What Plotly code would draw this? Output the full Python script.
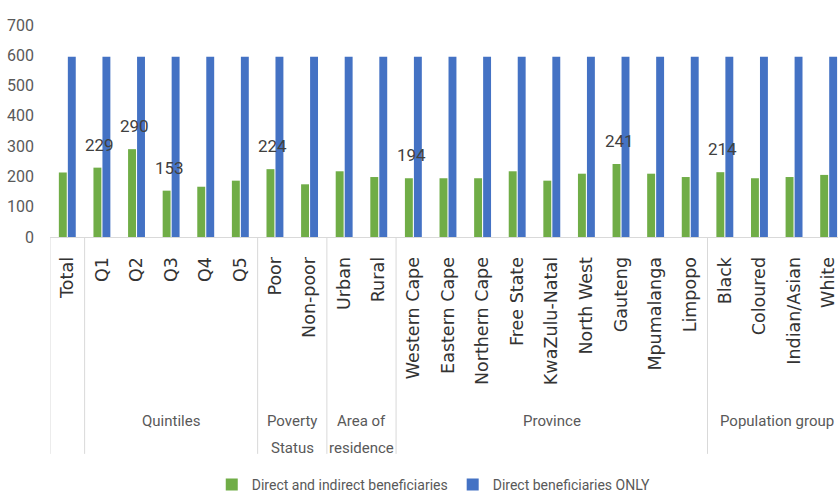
import plotly.graph_objects as go

categories = ["Total", "Q1", "Q2", "Q3", "Q4", "Q5", "Poor", "Non-poor", "Urban", "Rural",
              "Western Cape", "Eastern Cape", "Northern Cape", "Free State", "KwaZulu-Natal",
              "North West", "Gauteng", "Mpumalanga", "Limpopo",
              "Black", "Coloured", "Indian/Asian", "White"]
group_names = ["", "Quintiles", "Poverty\nStatus", "Area of\nresidence", "Province", "Population group"]
group_sizes = [1, 5, 2, 2, 9, 4]

direct_indirect = [213, 229, 290, 153, 166, 186, 224, 174, 217, 198,
                   194, 194, 194, 217, 186, 209, 241, 209, 198,
                   214, 194, 198, 205]
direct_only = [595, 595, 595, 595, 595, 595, 595, 595, 595, 595,
               595, 595, 595, 595, 595, 595, 595, 595, 595,
               595, 595, 595, 595]
shown_labels = ["", "229", "290", "153", "", "", "224", "", "", "",
                "194", "", "", "", "", "", "241", "", "",
                "214", "", "", ""]

y_ticks = [0, 100, 200, 300, 400, 500, 600, 700]

GREEN = "#70AD47"
BLUE = "#4472C4"
NARROW = "Roboto, sans-serif"

x = list(range(len(categories)))

fig = go.Figure()
fig.add_trace(go.Bar(x=x, y=direct_indirect, name="Direct and indirect beneficiaries",
                     marker=dict(color=GREEN, line=dict(width=0))))
fig.add_trace(go.Bar(x=x, y=direct_only, name="Direct beneficiaries ONLY",
                     marker=dict(color=BLUE, line=dict(width=0))))

annotations = []
for xi, v, lab in zip(x, direct_indirect, shown_labels):
    if lab:
        annotations.append(dict(x=xi, y=v, xref="x", yref="y", text=lab, showarrow=False,
                                xshift=-2, yshift=23, yanchor="middle",
                                font=dict(family=NARROW, size=17, color="#404040")))

shapes = []
start = 0
bounds = [-0.5]
for name, size in zip(group_names, group_sizes):
    end = start + size
    bounds.append(end - 0.5)
    center = start + size / 2 - 0.5
    for li, line in enumerate(name.split("\n")):
        if line:
            annotations.append(dict(x=center, y=(240 - 427 - 27 * li) / 215, xref="x", yref="paper",
                                    text=line, showarrow=False, yanchor="middle",
                                    font=dict(family=NARROW, size=15, color="#595959")))
    start = end
for b in bounds[:-1]:
    shapes.append(dict(type="line", x0=b, x1=b, xref="x", yref="paper", y0=0, y1=-1.023,
                       line=dict(color="#d9d9d9", width=1)))

fig.update_layout(
    width=838, height=501,
    margin=dict(l=50, r=0, t=25, b=261),
    paper_bgcolor="white", plot_bgcolor="white",
    barmode="group", bargap=0.48, bargroupgap=0.12,
    showlegend=True,
    legend=dict(orientation="h", x=0.487, xanchor="center", y=(240 - 492) / 215, yanchor="middle",
                font=dict(family=NARROW, size=14, color="#595959")),
    annotations=annotations,
    shapes=shapes,
)
fig.update_yaxes(range=[0, 700], tickvals=y_ticks, showgrid=False, zeroline=False, showline=False,
                 ticks="", ticklabelstandoff=15,
                 tickfont=dict(family=NARROW, size=16, color="#595959"))
fig.update_xaxes(range=[-0.5, 22.27], tickvals=x, ticktext=categories, tickangle=-90,
                 showgrid=False, zeroline=False, showline=True, linecolor="#d9d9d9", linewidth=1,
                 ticks="", ticklabelstandoff=12, ticklabeloverflow="allow",
                 tickfont=dict(family="DejaVu Sans", size=17.5, color="#333333"))

fig.write_html("out.html")
